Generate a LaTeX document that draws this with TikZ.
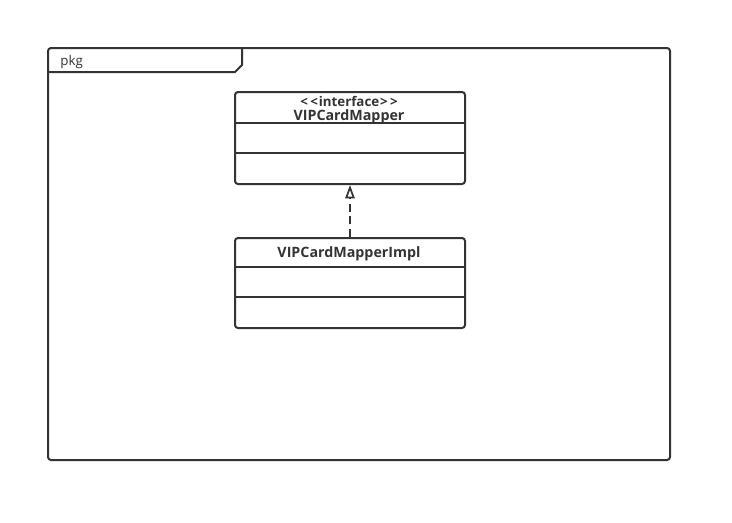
\documentclass[tikz,border=0pt]{standalone}
\usepackage{fontspec}
\setmainfont{Open Sans}
\usetikzlibrary{arrows.meta}
\definecolor{ink}{HTML}{333333}
\begin{document}
\begin{tikzpicture}[x=0.75pt,y=-0.75pt,
  line width=1.5pt, draw=ink, text=ink,
  classbox/.style={draw=ink, rounded corners=2.25pt, minimum width=172.5pt, inner sep=0pt, anchor=north west},
  classname/.style={font=\bfseries\fontsize{10.7pt}{12pt}\selectfont, text=ink},
  stereotype/.style={font=\bfseries\fontsize{10pt}{11pt}\selectfont, text=ink},
  realize/.style={dashed, dash pattern=on 6pt off 3.5pt, -{Triangle[open,length=10pt,width=7pt,line width=1.3pt]}}]
\useasboundingbox (0,0) rectangle (732,522);
% package frame with its tab
\draw[rounded corners=2.25pt] (48,48) rectangle (670,460);
\draw (48,72) -- (235,72) -- (242,65) -- (242,48);
\node[anchor=west, font=\fontsize{10pt}{11pt}\selectfont] (pkg) at (55,62.5) {pkg};
% interface
\node[classbox, minimum height=69pt] (iface) at (234,91) {};
\draw (234,123) -- (464,123);
\draw (234,153) -- (464,153);
\node[stereotype] (stereo) at (349,101) {{<}\kern1.8pt{<}\kern0.6pt interface\kern0.6pt{>}\kern1.8pt{>}};
\node[classname] (ifname) at (349,116.5) {VIPCardMapper};
% implementation
\node[classbox, minimum height=67.5pt] (impl) at (234,237) {};
\draw (234,267) -- (464,267);
\draw (234,297) -- (464,297);
\node[classname] (implname) at (349,253.5) {VIPCardMapperImpl};
% realization
\draw[realize] (impl.north) -- (iface.south);
\end{tikzpicture}
\end{document}
